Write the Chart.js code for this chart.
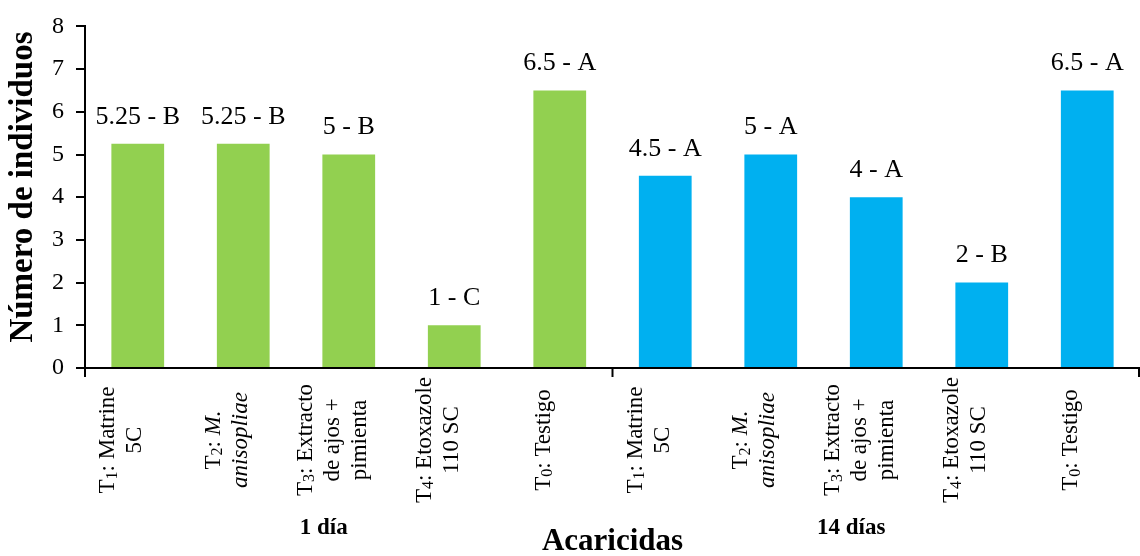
<!DOCTYPE html>
<html>
<head>
<meta charset="utf-8">
<script src="https://cdn.jsdelivr.net/npm/chart.js@4.4.0/dist/chart.umd.min.js"></script>
<style>
  body { margin: 0; background: #fff; }
</style>
</head>
<body>
<canvas id="chart" width="1140" height="556"></canvas>
<script>
// _n = subscript digit, *text* = italic
const categories = [
    ['T_1: Matrine', '5C'],
    ['T_2: *M.*', '*anisopliae*'],
    ['T_3: Extracto', 'de ajos +', 'pimienta'],
    ['T_4: Etoxazole', '110 SC'],
    ['T_0: Testigo'],
    ['T_1: Matrine', '5C'],
    ['T_2: *M.*', '*anisopliae*'],
    ['T_3: Extracto', 'de ajos +', 'pimienta'],
    ['T_4: Etoxazole', '110 SC'],
    ['T_0: Testigo']
];
const groups = ['1 día', '14 días'];
const groupSize = 5;
const values = [5.25, 5.25, 5, 1, 6.5, 4.5, 5, 4, 2, 6.5];
const letters = ['B', 'B', 'B', 'C', 'A', 'A', 'A', 'A', 'B', 'A'];
const groupColors = ['#92D050', '#00B0F0'];
const yTicks = [0, 1, 2, 3, 4, 5, 6, 7, 8];
const yTitle = 'Número de individuos';

const serif = '"Liberation Serif", "Times New Roman", serif';

function parseLine(line) {
    return line.split(/(_\d|\*[^*]+\*)/).filter(function(s) { return s !== ''; }).map(function(s) {
        if (s[0] === '_') return { text: s.slice(1), type: 'sub' };
        if (s[0] === '*') return { text: s.slice(1, -1), type: 'italic' };
        return { text: s, type: 'normal' };
    });
}

function segFont(type, size) {
    if (type === 'italic') return 'italic ' + size + 'px ' + serif;
    if (type === 'sub') return Math.round(size * 0.68) + 'px ' + serif;
    return size + 'px ' + serif;
}

const labelsPlugin = {
    id: 'labelsPlugin',
    afterDraw: function(chart) {
        const ctx = chart.ctx;
        const x = chart.scales.x;
        const area = chart.chartArea;
        const size = 23;
        const lineGap = 27;
        const centerY = 440;

        ctx.save();
        ctx.fillStyle = '#000';
        ctx.textBaseline = 'middle';

        // y axis title
        ctx.save();
        ctx.translate(23, 187);
        ctx.rotate(-Math.PI / 2);
        ctx.font = 'bold 33px ' + serif;
        ctx.textAlign = 'center';
        ctx.fillText(yTitle, 0, 0);
        ctx.restore();

        // category labels, rotated
        categories.forEach(function(lines, i) {
            const px = x.getPixelForValue(i) - 16;
            lines.forEach(function(line, k) {
                const segs = parseLine(line);
                let w = 0;
                segs.forEach(function(s) { ctx.font = segFont(s.type, size); s.w = ctx.measureText(s.text).width; w += s.w; });
                ctx.save();
                ctx.translate(px + (k - (lines.length - 1) / 2) * lineGap, centerY);
                ctx.rotate(-Math.PI / 2);
                let cx = -w / 2;
                segs.forEach(function(s) {
                    ctx.font = segFont(s.type, size);
                    ctx.textAlign = 'left';
                    ctx.fillText(s.text, cx, s.type === 'sub' ? size * 0.18 : 0);
                    cx += s.w;
                });
                ctx.restore();
            });
        });

        // group divider ticks
        ctx.strokeStyle = '#000';
        ctx.lineWidth = 2;
        for (let g = 0; g <= groups.length; g++) {
            let gx;
            if (g === 0) gx = area.left;
            else if (g === groups.length) gx = area.right - 1;
            else gx = (x.getPixelForValue(g * groupSize - 1) + x.getPixelForValue(g * groupSize)) / 2;
            ctx.beginPath();
            ctx.moveTo(gx, area.bottom);
            ctx.lineTo(gx, area.bottom + 9);
            ctx.stroke();
        }

        // group names
        ctx.font = 'bold 23px ' + serif;
        ctx.textAlign = 'center';
        groups.forEach(function(name, g) {
            const mid = (x.getPixelForValue(g * groupSize) + x.getPixelForValue(g * groupSize + groupSize - 1)) / 2;
            ctx.fillText(name, mid - 25, 528);
        });

        // value labels above bars
        const meta = chart.getDatasetMeta(0);
        ctx.font = '26px ' + serif;
        ctx.textBaseline = 'bottom';
        meta.data.forEach(function(bar, i) {
            ctx.fillText(values[i] + ' - ' + letters[i], bar.x, bar.y - 14);
        });
        ctx.restore();
    }
};

new Chart(document.getElementById('chart'), {
    type: 'bar',
    data: {
        labels: categories.map(function(c) { return c.join(' ').replace(/[_*]/g, ''); }),
        datasets: [{
            data: values,
            backgroundColor: values.map(function(v, i) { return groupColors[Math.floor(i / groupSize)]; }),
            barPercentage: 0.5,
            categoryPercentage: 1
        }]
    },
    options: {
        responsive: false,
        animation: false,
        layout: { padding: { top: 25, right: 0, left: 0, bottom: 0 } },
        plugins: {
            legend: { display: false },
            tooltip: { enabled: false }
        },
        scales: {
            x: {
                grid: { display: false },
                border: { color: '#000', width: 2 },
                ticks: { display: false },
                title: {
                    display: true,
                    text: 'Acaricidas',
                    color: '#000',
                    font: { family: serif, size: 31, weight: 'bold', lineHeight: 0.9 },
                    padding: 0
                },
                afterFit: function(scale) { scale.height = 188; }
            },
            y: {
                min: 0,
                max: 8,
                afterBuildTicks: function(scale) { scale.ticks = yTicks.map(function(v) { return { value: v }; }); },
                grid: { drawOnChartArea: false, color: '#000', lineWidth: 2, tickLength: 9 },
                border: { color: '#000', width: 2 },
                ticks: { color: '#000', font: { family: serif, size: 24 }, padding: 12 },
                title: { display: false },
                afterFit: function(scale) { scale.width = 85; }
            }
        }
    },
    plugins: [labelsPlugin]
});
</script>
</body>
</html>
